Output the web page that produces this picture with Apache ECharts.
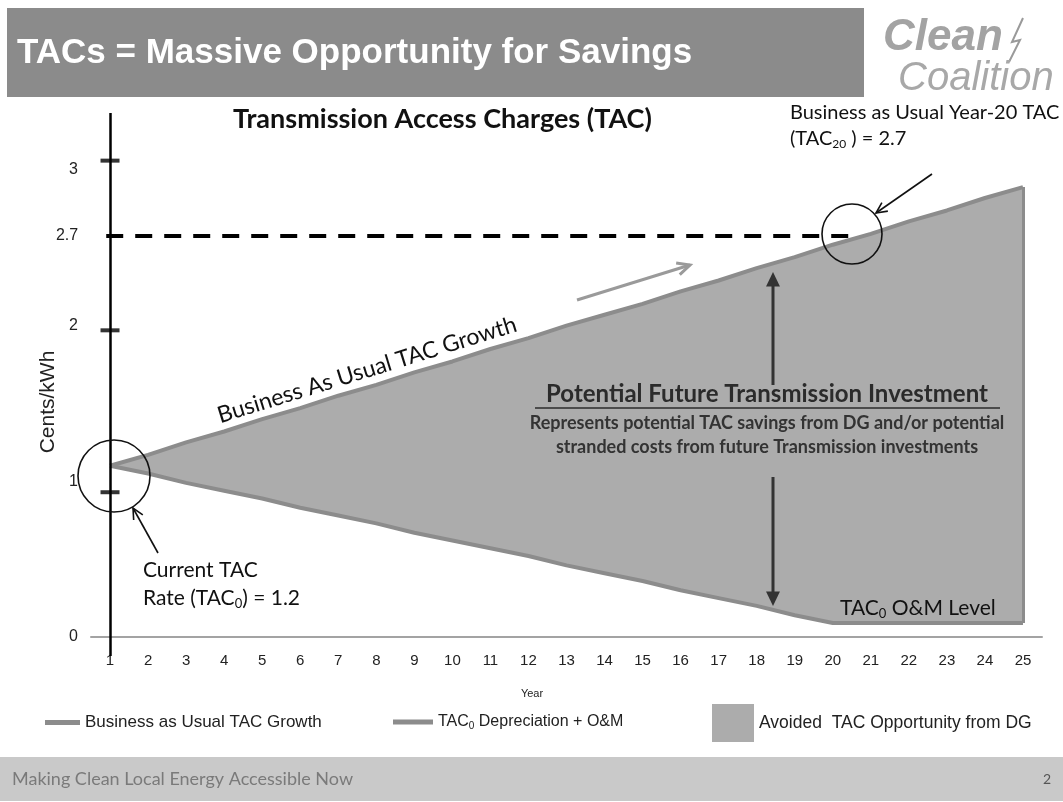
<!DOCTYPE html>
<html>
<head>
<meta charset="utf-8">
<script src="https://cdn.jsdelivr.net/npm/echarts@6/dist/echarts.min.js"></script>
<style>
  html, body { margin: 0; padding: 0; background: #fff; }
  #main { width: 1063px; height: 802px; }
</style>
</head>
<body>
<div id="main"></div>
<script>
// values (cents/kWh per year)
var years = ['1', '2', '3', '4', '5', '6', '7', '8', '9', '10', '11', '12', '13',
             '14', '15', '16', '17', '18', '19', '20', '21', '22', '23', '24', '25'];
var usualGrowth = [1.10, 1.17, 1.25, 1.32, 1.40, 1.47, 1.55, 1.62, 1.70, 1.77, 1.85, 1.92, 2.00,
                   2.07, 2.14, 2.22, 2.29, 2.37, 2.44, 2.52, 2.59, 2.67, 2.74, 2.82, 2.89];
var depreciationOM = [1.10, 1.05, 0.99, 0.94, 0.89, 0.83, 0.78, 0.73, 0.67, 0.62, 0.57, 0.52, 0.46,
                      0.41, 0.36, 0.30, 0.25, 0.20, 0.14, 0.09, 0.09, 0.09, 0.09, 0.09, 0.09];
var yLabelValues = [0, 1, 2, 3];
var yTickMarks = [0.93, 1.97, 3.06];
var tac20Level = 2.58;
var tac20Label = '2.7';

var GREY_LINE = '#8c8c8c';
var GREY_FILL = '#acacac';
var CAL = 'Lato, "Open Sans", sans-serif';
var ARIAL = '"Liberation Sans", Arial, sans-serif';

var gap = usualGrowth.map(function (v, i) { return +(v - depreciationOM[i]).toFixed(2); });

// helpers for the hand drawn annotations
function arrow(x1, y1, x2, y2, color, width, head, filled) {
    var a = Math.atan2(y2 - y1, x2 - x1);
    var h1 = [x2 - head * Math.cos(a - 0.45), y2 - head * Math.sin(a - 0.45)];
    var h2 = [x2 - head * Math.cos(a + 0.45), y2 - head * Math.sin(a + 0.45)];
    var cut = filled ? head * 0.7 : 0;
    var items = [{
        type: 'line', z: 100,
        shape: { x1: x1, y1: y1, x2: x2 - cut * Math.cos(a), y2: y2 - cut * Math.sin(a) },
        style: { stroke: color, lineWidth: width }
    }];
    if (filled) {
        items.push({ type: 'polygon', z: 100, shape: { points: [h1, [x2, y2], h2] }, style: { fill: color } });
    } else {
        items.push({ type: 'polyline', z: 100, shape: { points: [h1, [x2, y2], h2] }, style: { stroke: color, lineWidth: width, fill: null } });
    }
    return { type: 'group', children: items };
}
function circle(cx, cy, r) {
    return { type: 'circle', shape: { cx: cx, cy: cy, r: r }, style: { fill: null, stroke: '#111', lineWidth: 1.6 }, z: 100 };
}
function txt(x, y, text, font, color, align) {
    return { type: 'text', z: 100, style: { text: text, x: x, y: y, font: font, fill: color, textAlign: align || 'left', textVerticalAlign: 'middle' } };
}
function subTxt(x, y, text, size) {
    return { type: 'text', z: 100, style: { x: x, y: y, textVerticalAlign: 'middle', text: text,
        rich: {
            b: { font: size + 'px ' + CAL, fill: '#111' },
            s: { font: Math.round(size * 0.62) + 'px ' + CAL, fill: '#111', padding: [Math.round(size * 0.5), 0, 0, 0] }
        } } };
}

var chart = echarts.init(document.getElementById('main'));

var option = {
    backgroundColor: '#fff',
    animation: false,
    title: {
        text: 'Transmission Access Charges (TAC)',
        left: 228,
        top: 101,
        textStyle: { fontFamily: CAL, fontWeight: 'bold', fontSize: 27, color: '#111' }
    },
    grid: { left: 91, right: 21, top: 113, bottom: 146 },
    xAxis: [{
        type: 'category',
        data: years,
        boundaryGap: true,
        axisLine: { onZero: true, lineStyle: { color: '#a3a3a3', width: 2 } },
        axisTick: { show: false },
        splitLine: { show: false },
        axisLabel: { margin: -3, fontFamily: ARIAL, fontSize: 15, color: '#222' }
    }, {
        // hidden twin of the year axis, for the marks that sit between years
        type: 'value',
        min: 0.5,
        max: 25.5,
        show: false
    }],
    yAxis: {
        type: 'value',
        min: -0.122,
        max: 3.366,
        axisLine: { show: false },
        axisTick: { show: false },
        splitLine: { show: false },
        axisLabel: {
            customValues: yLabelValues,
            margin: 13,
            fontFamily: ARIAL,
            fontSize: 16,
            color: '#222'
        }
    },
    legend: [{
        data: [{ name: 'Business as Usual TAC Growth', icon: 'rect' }],
        left: 40, top: 709, itemWidth: 35, itemHeight: 5, selectedMode: false,
        textStyle: { fontFamily: ARIAL, fontSize: 17, color: '#222' }
    }, {
        data: [{ name: 'TAC0 Depreciation + O&M', icon: 'rect' }],
        left: 388, top: 709, itemWidth: 40, itemHeight: 5, selectedMode: false,
        formatter: function () { return 'TAC{s|0} Depreciation + O&M'; },
        textStyle: {
            fontFamily: ARIAL, fontSize: 16, color: '#222',
            rich: { s: { fontFamily: ARIAL, fontSize: 10, color: '#222', padding: [9, 0, 0, 0] } }
        }
    }, {
        data: [{ name: 'Avoided  TAC Opportunity from DG', icon: 'rect', itemStyle: { color: GREY_FILL } }],
        left: 707, top: 699, itemWidth: 42, itemHeight: 38, selectedMode: false,
        textStyle: { fontFamily: ARIAL, fontSize: 17.5, color: '#222' }
    }],
    series: [{
        name: 'base',
        type: 'line',
        stack: 'tac',
        data: depreciationOM,
        symbol: 'none',
        silent: true,
        lineStyle: { opacity: 0 },
        z: 1
    }, {
        name: 'Avoided  TAC Opportunity from DG',
        type: 'line',
        stack: 'tac',
        data: gap,
        symbol: 'none',
        silent: true,
        lineStyle: { opacity: 0 },
        itemStyle: { color: GREY_FILL },
        areaStyle: { color: GREY_FILL, opacity: 1 },
        z: 2,
        markLine: {
            silent: true,
            symbol: ['none', 'none'],
            label: { show: false },
            lineStyle: { color: GREY_LINE, width: 3, type: 'solid' },
            data: [[
                { coord: [years[years.length - 1], depreciationOM[depreciationOM.length - 1]] },
                { coord: [years[years.length - 1], usualGrowth[usualGrowth.length - 1]] }
            ]]
        }
    }, {
        name: 'Business as Usual TAC Growth',
        type: 'line',
        data: usualGrowth,
        symbol: 'none',
        silent: true,
        lineStyle: { color: GREY_LINE, width: 4 },
        itemStyle: { color: GREY_LINE },
        z: 3
    }, {
        name: 'TAC0 Depreciation + O&M',
        type: 'line',
        data: depreciationOM,
        symbol: 'none',
        silent: true,
        lineStyle: { color: GREY_LINE, width: 4 },
        itemStyle: { color: GREY_LINE },
        z: 3
    }, {
        name: 'axis',
        type: 'scatter',
        xAxisIndex: 1,
        data: yTickMarks.map(function (v) { return [1, v]; }),
        symbol: 'rect',
        symbolSize: [19, 4],
        silent: true,
        itemStyle: { color: '#000' },
        z: 10,
        markLine: {
            silent: true,
            symbol: ['none', 'none'],
            data: [
                { xAxis: 1, label: { show: false }, lineStyle: { color: '#000', width: 2.5, type: 'solid' } },
                [
                    { coord: [0.9, tac20Level], lineStyle: { color: '#000', width: 4, type: [17, 12] },
                      label: { show: true, position: 'start', distance: 28, formatter: tac20Label,
                               fontFamily: ARIAL, fontSize: 16, color: '#222' } },
                    { coord: [20.53, tac20Level] }
                ]
            ]
        }
    }],
    graphic: [
        // slide header
        { type: 'rect', shape: { x: 7, y: 8, width: 857, height: 89 }, style: { fill: '#8b8b8b' } },
        txt(17, 53, 'TACs = Massive Opportunity for Savings', 'bold 35px ' + ARIAL, '#fff'),
        txt(883, 38, 'Clean', 'italic bold 44px ' + ARIAL, '#a3a3a3'),
        { type: 'polyline', shape: { points: [[1023, 18], [1012, 42], [1020, 40], [1009, 62]] },
          style: { stroke: '#9a9a9a', lineWidth: 2, fill: null } },
        txt(898, 79, 'Coalition', 'italic 40px ' + ARIAL, '#a8a8a8'),
        // slide footer
        { type: 'rect', shape: { x: 0, y: 757, width: 1063, height: 44 }, style: { fill: '#c9c9c9' } },
        txt(12, 779, 'Making Clean Local Energy Accessible Now', '18px ' + CAL, '#7a7a7a'),
        txt(1043, 779, '2', '14px ' + CAL, '#555'),
        // axis names
        { type: 'text', z: 100, x: 48, y: 402, rotation: Math.PI / 2,
          style: { text: 'Cents/kWh', font: '21px ' + ARIAL, fill: '#222', textAlign: 'center', textVerticalAlign: 'middle' } },
        txt(532, 694, 'Year', '11px ' + ARIAL, '#222', 'center'),
        // annotations
        circle(114, 476, 36),
        arrow(158, 553, 133, 508, '#111', 1.6, 12, false),
        txt(143, 570, 'Current TAC', '21px ' + CAL, '#111'),
        subTxt(143, 598, '{b|Rate (TAC}{s|0}{b|) = 1.2}', 21),
        circle(852, 234, 30),
        arrow(932, 174, 876, 213, '#111', 1.6, 12, false),
        txt(790, 113, 'Business as Usual Year-20 TAC', '20px ' + CAL, '#111'),
        subTxt(790, 139, '{b|(TAC}{s|20}{b| ) = 2.7}', 20),
        { type: 'text', z: 100, x: 367, y: 370, rotation: 0.30,
          style: { text: 'Business As Usual TAC Growth', font: '23px ' + CAL, fill: '#111', textAlign: 'center', textVerticalAlign: 'middle' } },
        arrow(577, 300, 690, 265, '#9a9a9a', 3, 14, false),
        arrow(773, 385, 773, 272, '#333', 3, 16, true),
        arrow(773, 477, 773, 606, '#333', 3, 16, true),
        txt(767, 394, 'Potential Future Transmission Investment', 'bold 24px ' + CAL, '#2b2b2b', 'center'),
        { type: 'line', z: 100, shape: { x1: 535, y1: 408, x2: 1000, y2: 408 }, style: { stroke: '#2b2b2b', lineWidth: 1.5 } },
        txt(767, 423, 'Represents potential TAC savings from DG and/or potential', 'bold 18px ' + CAL, '#333', 'center'),
        txt(767, 447, 'stranded costs from future Transmission investments', 'bold 18px ' + CAL, '#333', 'center'),
        subTxt(840, 608, '{b|TAC}{s|0}{b| O&M Level}', 21)
    ]
};

chart.setOption(option);
window.onresize = chart.resize;
</script>
</body>
</html>
